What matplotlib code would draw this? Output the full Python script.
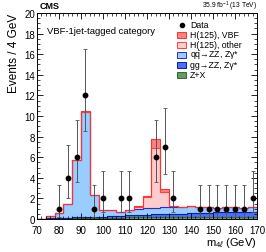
import numpy as np
import matplotlib
matplotlib.use("Agg")
import matplotlib.pyplot as plt
from matplotlib.patches import Rectangle
from matplotlib.ticker import MultipleLocator

plt.rcParams['font.family'] = ['Liberation Sans', 'DejaVu Sans']
plt.rcParams['mathtext.fontset'] = 'custom'
plt.rcParams['mathtext.rm'] = 'Liberation Sans'
plt.rcParams['mathtext.it'] = 'Liberation Sans:italic'

# ---- data ----
bin_edges = np.arange(70, 174, 4)  # 70..170, 25 bins
zx = [0.02, 0.05, 0.08, 0.10, 0.12, 0.12, 0.12, 0.15, 0.15, 0.15, 0.18, 0.18, 0.18,
      0.20, 0.20, 0.20, 0.20, 0.22, 0.22, 0.22, 0.25, 0.25, 0.25, 0.25, 0.25]
ggzz = [0.01, 0.02, 0.03, 0.04, 0.05, 0.07, 0.05, 0.10, 0.12, 0.15, 0.18, 0.20, 0.22,
        0.25, 0.28, 0.30, 0.32, 0.35, 0.38, 0.40, 0.42, 0.42, 0.45, 0.45, 0.45]
qqzz = [0.02, 0.23, 0.49, 1.36, 5.58, 10.21, 2.13, 0.65, 0.63, 0.40, 0.49, 0.62, 0.65,
        0.65, 0.72, 0.70, 0.68, 0.73, 0.55, 0.53, 0.43, 0.48, 0.45, 0.40, 0.50]
h_other = [0.0, 0.0, 0.0, 0.0, 0.0, 0.0, 0.0, 0.0, 0.0, 0.0, 0.02, 0.22, 1.10,
           5.80, 1.45, 0.10, 0.01, 0.0, 0.0, 0.0, 0.0, 0.0, 0.0, 0.0, 0.0]
h_vbf = [0.0, 0.0, 0.0, 0.0, 0.02, 0.05, 0.02, 0.0, 0.0, 0.0, 0.01, 0.03, 0.12,
         0.85, 0.25, 0.02, 0.0, 0.0, 0.0, 0.0, 0.0, 0.0, 0.0, 0.0, 0.0]

data_x = [80, 84, 88, 92, 96, 100, 108, 112, 124, 128, 132, 144, 148, 152, 156, 160, 164, 168]
data_y = [1, 4, 6, 12, 1, 2, 2, 2, 6, 7, 2, 1, 1, 1, 1, 1, 1, 2]
err_lo = [0.83, 1.91, 2.38, 3.41, 0.83, 1.29, 1.29, 1.29, 2.38, 2.58, 1.29, 0.83, 0.83, 0.83, 0.83, 0.83, 0.83, 1.29]
err_hi = [2.30, 3.16, 3.58, 4.53, 2.30, 2.64, 2.64, 2.64, 3.58, 3.77, 2.64, 2.30, 2.30, 2.30, 2.30, 2.30, 2.30, 2.64]

layers = [
    (zx, '#669966', '#2d6a2d', 'Z+X'),
    (ggzz, '#4d6dff', '#0b1f9e', 'gg\u2192ZZ, Z\u03b3*'),
    (qqzz, '#99ccff', '#2a2ad4', 'q$\\bar{\\mathrm{q}}$\u2192ZZ, Z\u03b3*'),
    (h_other, '#ffcccc', '#ff4040', 'H(125), other'),
    (h_vbf, '#ff8080', '#ff3030', 'H(125), VBF'),
]

W, H = 266, 253
fig = plt.figure(figsize=(W / 100, H / 100), dpi=100)
ax = fig.add_axes([0.139, 0.130, 0.827, 0.815])

bottom = np.zeros(len(bin_edges) - 1)
for vals, fc, ec, lab in layers:
    top = bottom + np.array(vals)
    ax.stairs(top, bin_edges, baseline=bottom, fill=True, color=fc, lw=0)
    bottom = top
bottom = np.zeros(len(bin_edges) - 1)
for vals, fc, ec, lab in layers:
    top = bottom + np.array(vals)
    ax.stairs(top, bin_edges, baseline=None, color=ec, lw=0.8)
    bottom = top

ax.errorbar(data_x, data_y, yerr=[err_lo, err_hi], fmt='o', color='black',
            ecolor='#555555', elinewidth=0.7, capsize=1.2, capthick=0.6,
            markersize=3.2, zorder=5)

ax.set_xlim(70, 170)
ax.set_ylim(0, 20)
ax.xaxis.set_major_locator(MultipleLocator(10))
ax.xaxis.set_minor_locator(MultipleLocator(2))
ax.yaxis.set_major_locator(MultipleLocator(2))
ax.yaxis.set_minor_locator(MultipleLocator(0.5))
ax.tick_params(which='both', direction='in', top=True, right=True, labelsize=7)
ax.tick_params(axis='y', pad=1.5)
ax.tick_params(axis='x', pad=4.0)
ax.tick_params(which='major', length=4, width=0.6)
ax.tick_params(which='minor', length=2, width=0.5)
for s in ax.spines.values():
    s.set_linewidth(0.7)

ax.set_ylabel('Events / 4 GeV', fontsize=8.5, loc='top', labelpad=3)
ax.set_xlabel(r'm$_{4\ell}$ (GeV)', fontsize=8, loc='right', labelpad=0)

ax.text(0.045, 0.915, 'VBF-1jet-tagged category', transform=ax.transAxes, fontsize=6.8,
        ha='left', va='center')
fig.text(0.148, 0.975, 'CMS', fontsize=6.5, fontweight='bold', ha='left', va='center')
fig.text(0.966, 0.975, r'35.9 fb$^{-1}$ (13 TeV)', fontsize=4.8, ha='right', va='center')

# ---- legend (manual rows) ----
row0, step = 26.0, 10.0
box_x0, box_w, box_h, txt_x = 177.0, 9.0, 6.5, 190.0
fig.lines.append(plt.Line2D([(box_x0 + box_w / 2) / W], [1 - row0 / H], marker='o',
                            color='black', ls='none', markersize=3,
                            transform=fig.transFigure, figure=fig))
fig.text(txt_x / W, 1 - row0 / H, 'Data', fontsize=6.3, ha='left', va='center')
for i, (vals, fc, ec, lab) in enumerate(reversed(layers)):
    yc = row0 + step * (i + 1)
    fig.patches.append(Rectangle((box_x0 / W, 1 - (yc + box_h / 2) / H), box_w / W, box_h / H,
                                 facecolor=fc, edgecolor=ec, lw=0.7,
                                 transform=fig.transFigure, figure=fig))
    fig.text(txt_x / W, 1 - yc / H, lab, fontsize=6.3, ha='left', va='center')

fig.savefig('out.png', dpi=100)
